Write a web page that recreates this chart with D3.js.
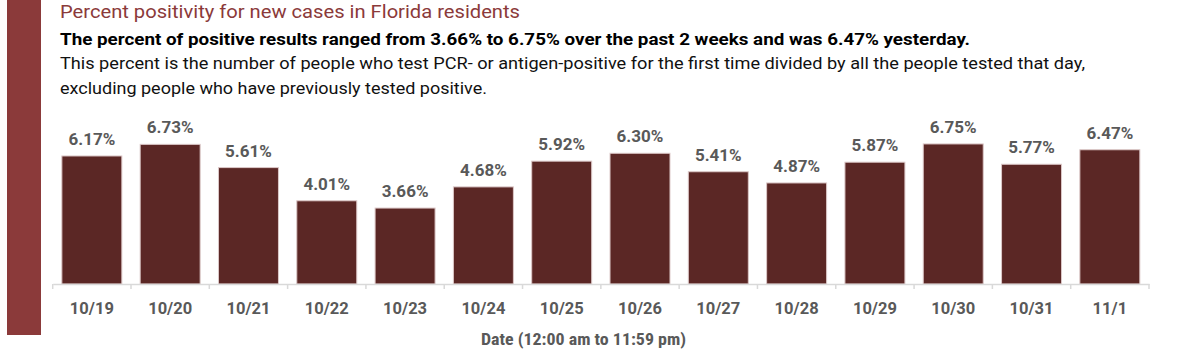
<!DOCTYPE html>
<html><head><meta charset="utf-8">
<script src="https://cdn.jsdelivr.net/npm/d3@7"></script>
<style>html,body{margin:0;padding:0;background:#fff;overflow:hidden}svg{display:block}</style>
</head><body>
<svg id="c" width="1200" height="354"></svg>
<script>
const categories = ["10/19","10/20","10/21","10/22","10/23","10/24","10/25","10/26","10/27","10/28","10/29","10/30","10/31","11/1"];
const values = [6.17,6.73,5.61,4.01,3.66,4.68,5.92,6.30,5.41,4.87,5.87,6.75,5.77,6.47];
const titleText = "Percent positivity for new cases in Florida residents";
const subtitleText = "The percent of positive results ranged from 3.66% to 6.75% over the past 2 weeks and was 6.47% yesterday.";
const noteLines = ["This percent is the number of people who test PCR- or antigen-positive for the first time divided by all the people tested that day,",
  "excluding people who have previously tested positive."];
const axisTitle = "Date (12:00 am to 11:59 pm)";

const svg = d3.select("#c");
const FONT = "Roboto, 'Noto Sans', sans-serif";
const CFONT = "'Roboto Condensed', Roboto, sans-serif";

// left accent bar
svg.append("rect").attr("x",7).attr("y",0).attr("width",34).attr("height",335).attr("fill","#8B3A3A");

function fitText(sel, w, mode){
  const l = sel.node().getComputedTextLength();
  if (Math.abs(l - w) > 1.5) sel.attr("textLength", w).attr("lengthAdjust", mode || "spacingAndGlyphs");
}

const TX = 60;
const t = svg.append("text").attr("x",TX).attr("y",17.5).attr("font-family",FONT).attr("font-size",18)
  .attr("fill","#8B3A3A").text(titleText);
fitText(t, 460);
const s = svg.append("text").attr("x",TX).attr("y",45).attr("font-family",FONT).attr("font-size",16.5)
  .attr("font-weight","bold").attr("fill","#000").text(subtitleText);
fitText(s, 910);
const n1 = svg.append("text").attr("x",TX).attr("y",68.7).attr("font-family",FONT).attr("font-size",16)
  .attr("fill","#111").text(noteLines[0]);
fitText(n1, 1025);
const n2 = svg.append("text").attr("x",TX).attr("y",93.5).attr("font-family",FONT).attr("font-size",16)
  .attr("fill","#111").text(noteLines[1]);
fitText(n2, 427);

const x = d3.scaleBand().domain(categories).range([52.7,1149]).paddingInner(0.234).paddingOuter(0.117);
const y = d3.scaleLinear().domain([0,8]).range([284, 284 - 8*20.75]);

svg.append("g").selectAll("rect").data(values).join("rect")
  .attr("x",(d,i)=>x(categories[i])).attr("width",x.bandwidth())
  .attr("y",d=>y(d)).attr("height",d=>y(0)-y(d))
  .attr("fill","#5B2725").attr("stroke","#dcc8c8").attr("stroke-width",1);

svg.append("g").selectAll("text").data(values).join("text")
  .attr("x",(d,i)=>x(categories[i])+x.bandwidth()/2).attr("y",d=>y(d)-11)
  .attr("text-anchor","middle").attr("font-family",FONT).attr("font-size",17).attr("font-weight","bold")
  .attr("fill","#595959").text(d=>d.toFixed(2)+"%");

// axis
const ax = svg.append("g").attr("transform","translate(0,284)")
  .call(d3.axisBottom(x).tickSize(0).tickPadding(18.5));
ax.select(".domain").attr("stroke","#d9d9d9").attr("stroke-width",1.5);
ax.selectAll(".tick text").attr("font-family",FONT).attr("font-size",16.5).attr("font-weight","bold").attr("fill","#595959");
const bounds = categories.map(c=>x(c)-x.step()*x.paddingInner()/2);
bounds.push(x(categories[categories.length-1])+x.bandwidth()+x.step()*x.paddingInner()/2);
ax.selectAll("line.bnd").data(bounds).join("line").attr("class","bnd")
  .attr("x1",d=>d).attr("x2",d=>d).attr("y1",0).attr("y2",5).attr("stroke","#d9d9d9").attr("stroke-width",1.5);

const at = svg.append("text").attr("x",583.5).attr("y",345).attr("text-anchor","middle").attr("font-family",CFONT)
  .attr("font-size",16).attr("font-weight","bold").attr("fill","#595959").text(axisTitle);
fitText(at, 205);
</script>
</body></html>
